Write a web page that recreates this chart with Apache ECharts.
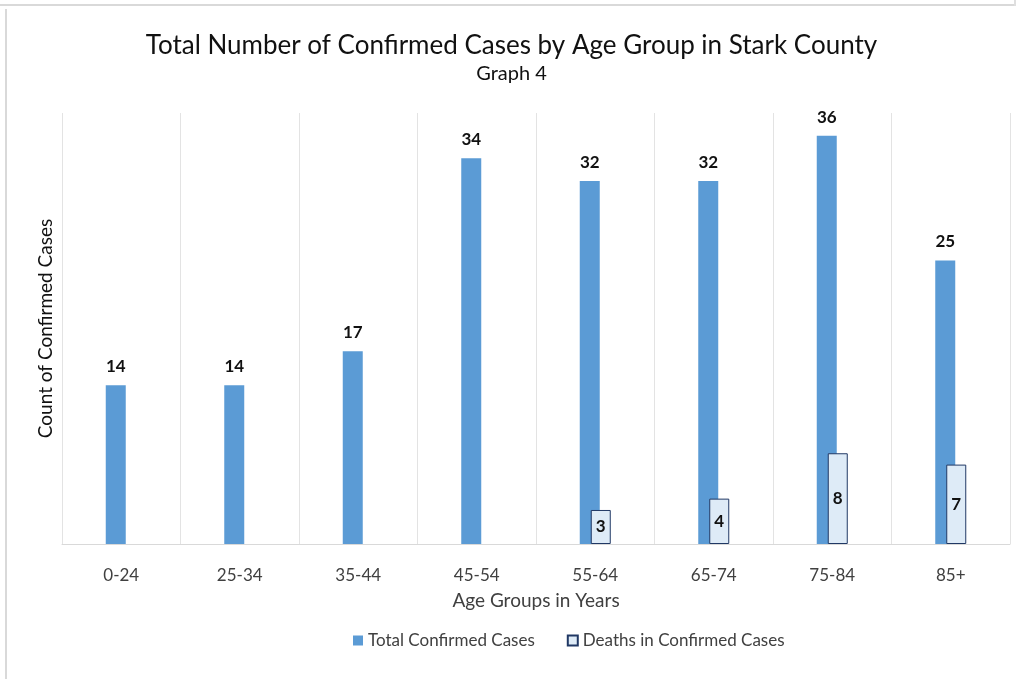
<!DOCTYPE html>
<html>
<head>
<meta charset="utf-8">
<title>Confirmed Cases by Age Group</title>
<script src="https://cdn.jsdelivr.net/npm/echarts@6/dist/echarts.min.js"></script>
<style>
  html, body { margin: 0; padding: 0; background: #fff; }
  #chart { width: 1023px; height: 679px; }
</style>
</head>
<body>
<div id="chart"></div>
<script>
  // 数据
  const ageGroups = ['0-24', '25-34', '35-44', '45-54', '55-64', '65-74', '75-84', '85+'];
  const totalCases = [14, 14, 17, 34, 32, 32, 36, 25];
  const deaths = [null, null, null, null, 3, 4, 8, 7];

  const font = 'Lato, "Open Sans", sans-serif';
  const chart = echarts.init(document.getElementById('chart'));

  const option = {
    animation: false,
    backgroundColor: '#fff',
    textStyle: { fontFamily: font },
    title: {
      text: 'Total Number of Confirmed Cases by Age Group in Stark County',
      subtext: 'Graph 4',
      left: 'center',
      top: 28,
      itemGap: 5,
      textStyle: { fontSize: 26, fontWeight: 'normal', color: '#111', fontFamily: font },
      subtextStyle: { fontSize: 20, color: '#111', fontFamily: font },
    },
    legend: {
      bottom: 25,
      left: 348,
      itemWidth: 10,
      itemHeight: 10,
      itemGap: 32,
      textStyle: { fontSize: 17, color: '#404040', fontFamily: font },
      data: [
        { name: 'Total Confirmed Cases', icon: 'rect' },
        { name: 'Deaths in Confirmed Cases', icon: 'rect' },
      ],
    },
    grid: { left: 62, right: 13, top: 113, bottom: 135 },
    xAxis: {
      type: 'category',
      data: ageGroups,
      name: 'Age Groups in Years',
      nameLocation: 'middle',
      nameGap: 47,
      nameTextStyle: { fontSize: 19, color: '#404040', fontFamily: font },
      axisLine: { lineStyle: { color: '#D9D9D9' } },
      axisTick: { show: false },
      axisLabel: { fontSize: 17, color: '#404040', margin: 23, fontFamily: font },
      splitLine: { show: true, lineStyle: { color: '#E3E3E3' } },
    },
    yAxis: {
      type: 'value',
      min: 0,
      max: 38,
      name: 'Count of Confirmed Cases',
      nameLocation: 'middle',
      nameGap: 7,
      nameTextStyle: { fontSize: 19, color: '#111', fontFamily: font },
      axisLine: { show: false },
      axisTick: { show: false },
      axisLabel: { show: false },
      splitLine: { show: false },
    },
    series: [
      {
        name: 'Total Confirmed Cases',
        type: 'bar',
        data: totalCases,
        barWidth: 20,
        barGap: '-45%',
        itemStyle: { color: '#5B9BD5' },
        label: {
          show: true,
          position: 'top',
          distance: 10,
          fontSize: 17,
          fontWeight: 'bold',
          color: '#111',
          fontFamily: font,
        },
      },
      {
        name: 'Deaths in Confirmed Cases',
        type: 'bar',
        data: deaths,
        barWidth: 20,
        itemStyle: { color: '#DEEBF7', borderColor: '#203864', borderWidth: 1 },
        label: {
          show: true,
          position: 'inside',
          fontSize: 17,
          fontWeight: 'bold',
          color: '#111',
          fontFamily: font,
        },
      },
    ],
    graphic: [
      // 截图边框
      { type: 'line', shape: { x1: 0, y1: 5, x2: 1014, y2: 5 }, style: { stroke: '#D9D9D9', lineWidth: 2 } },
      { type: 'line', shape: { x1: 1015, y1: 0, x2: 1015, y2: 6 }, style: { stroke: '#BFBFBF', lineWidth: 1 } },
      { type: 'line', shape: { x1: 6, y1: 9, x2: 6, y2: 679 }, style: { stroke: '#D9D9D9', lineWidth: 2 } },
    ],
  };

  chart.setOption(option);
</script>
</body>
</html>
